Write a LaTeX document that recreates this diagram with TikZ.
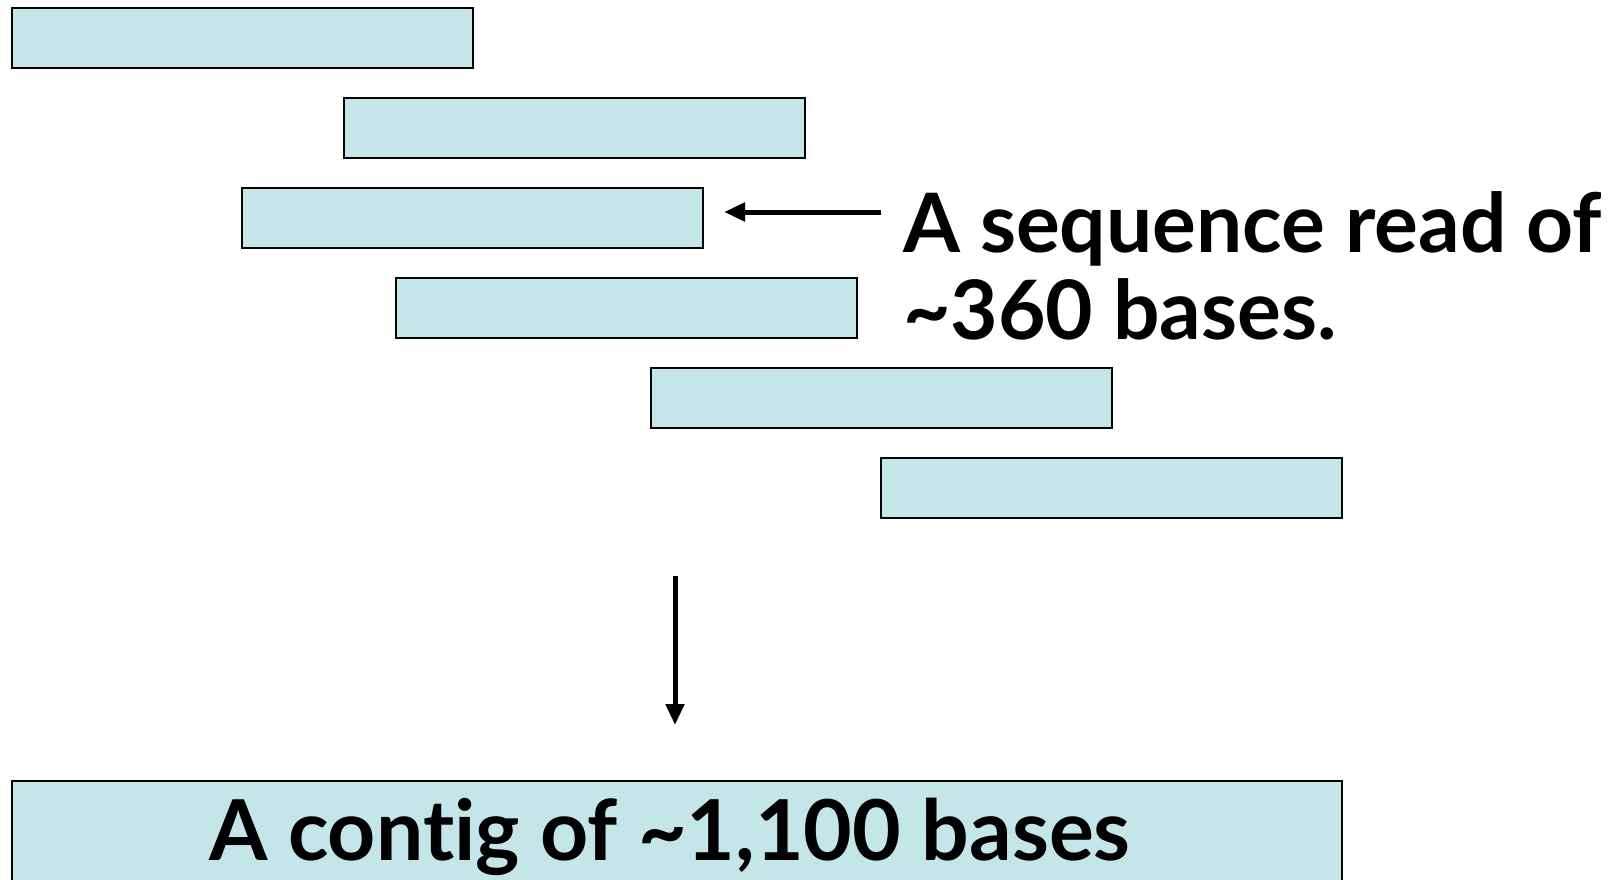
\documentclass[tikz,border=0pt]{standalone}
\usepackage{fontspec}
\setmainfont[Ligatures=NoCommon]{Lato}
\usetikzlibrary{arrows.meta}
\definecolor{readfill}{RGB}{196,230,232}
\begin{document}
\begin{tikzpicture}[x=1pt,y=-1pt,
  readbox/.style={draw=black,line width=2pt,fill=readfill,inner sep=0pt,
    minimum width=461pt,minimum height=60pt,anchor=north west},
  arr/.style={line width=5pt,-{Triangle[length=21pt,width=18pt]}},
  bigtext/.style={font=\fontsize{82}{87}\selectfont\bfseries,inner sep=0pt}]
\clip (0,0) rectangle (1624,880);
\fill[white] (0,0) rectangle (1624,880);
\node[readbox] (b1) at (11,7) {};
\node[readbox] (b2) at (343,97) {};
\node[readbox] (b3) at (241,187) {};
\node[readbox] (b4) at (395,277) {};
\node[readbox] (b5) at (650,367) {};
\node[readbox] (b6) at (880,457) {};
\node[readbox,minimum width=1330pt,minimum height=200pt] (contig) at (11,780) {};
\node[bigtext,anchor=base west,align=left] (lbl) at (903,339) {A sequence read of\\\textasciitilde360 bases.};
\node[bigtext,anchor=base,font=\fontsize{84}{90}\selectfont\bfseries] (ctext) at (670,860) {A contig of \textasciitilde1,100 bases};
\coordinate (lstart) at (881,212);
\coordinate (dtop) at (675,576);
\draw[arr,shorten >=20pt] (lstart) -- (lstart -| b3.east);
\draw[arr,shorten >=55pt] (dtop) -- (dtop |- contig.north);
\end{tikzpicture}
\end{document}
